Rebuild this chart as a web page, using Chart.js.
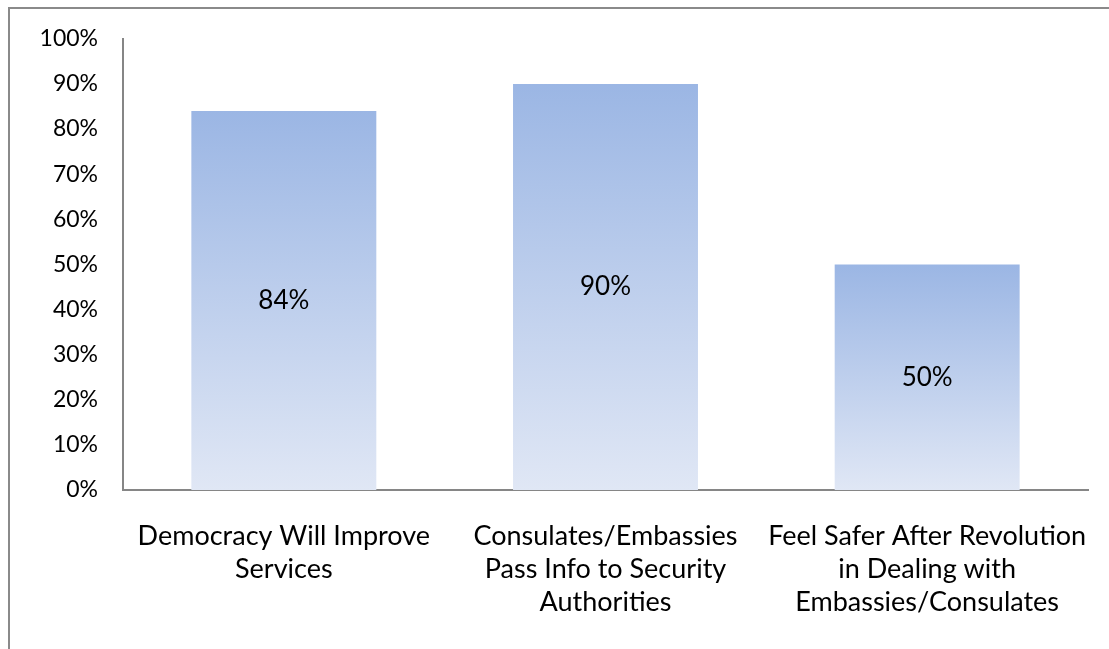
<!DOCTYPE html>
<html>
<head>
<meta charset="utf-8">
<script src="https://cdn.jsdelivr.net/npm/chart.js@4/dist/chart.umd.min.js"></script>
<style>
  html, body { margin: 0; padding: 0; background: #fff; }
  #wrap { position: relative; width: 1109px; height: 649px; }
</style>
</head>
<body>
<div id="wrap"><canvas id="myChart" width="1109" height="649"></canvas></div>
<script>
'use strict';

// Chart values
const categories = [
   ['Democracy Will Improve', 'Services'],
   ['Consulates/Embassies', 'Pass Info to Security', 'Authorities'],
   ['Feel Safer After Revolution', 'in Dealing with', 'Embassies/Consulates']
];
const values = [84, 90, 50];
const yTicks = [0, 10, 20, 30, 40, 50, 60, 70, 80, 90, 100];

const FONT = 'Lato, "Open Sans", sans-serif';

// Fade each bar from blue at the top to pale at the base.
function barFill(ctx) {
   const chart = ctx.chart;
   if (!chart.chartArea || ctx.dataIndex === undefined) return '#a7bfe6';
   const y = chart.scales.y;
   const top = y.getPixelForValue(values[ctx.dataIndex]);
   const bottom = y.getPixelForValue(0);
   const g = chart.ctx.createLinearGradient(0, top, 0, bottom);
   g.addColorStop(0, '#9bb6e4');
   g.addColorStop(1, '#e0e7f5');
   return g;
}

// Outer frame of the chart box.
const framePlugin = {
   id: 'frame',
   beforeDraw(chart) {
      const c = chart.ctx;
      c.save();
      c.strokeStyle = '#8a8a8a';
      c.lineWidth = 2;
      c.beginPath();
      c.moveTo(9, chart.height);
      c.lineTo(9, 8);
      c.lineTo(chart.width, 8);
      c.stroke();
      c.restore();
   }
};

// Value text in the middle of each bar.
const valueLabels = {
   id: 'valueLabels',
   afterDatasetsDraw(chart) {
      const c = chart.ctx;
      const meta = chart.getDatasetMeta(0);
      c.save();
      c.font = '26px ' + FONT;
      c.fillStyle = '#000';
      c.textAlign = 'center';
      c.textBaseline = 'middle';
      meta.data.forEach(function (bar, i) {
         c.fillText(values[i] + '%', bar.x, (bar.y + bar.base) / 2);
      });
      c.restore();
   }
};

const ctx = document.getElementById('myChart');
const myChart = new Chart(ctx, {
   type: 'bar',
   data: {
      labels: categories,
      datasets: [{
         data: values,
         backgroundColor: barFill,
         borderWidth: 0,
         categoryPercentage: 1,
         barPercentage: 0.575
      }]
   },
   options: {
      responsive: false,
      animation: false,
      layout: { padding: { top: 37, right: 21, bottom: 0, left: 0 } },
      plugins: {
         legend: { display: false },
         tooltip: { enabled: false }
      },
      scales: {
         x: {
            grid: { display: false, drawTicks: false },
            border: { display: true, color: '#868686', width: 2 },
            ticks: {
               color: '#000',
               font: { family: FONT, size: 27, lineHeight: 1.22 },
               padding: 30,
               maxRotation: 0,
               autoSkip: false
            },
            afterFit(scale) {
               scale.height = 159;
               // labels fit inside their categories, no extra side room
               scale.paddingLeft = 0;
               scale.paddingRight = 0;
            }
         },
         y: {
            min: 0,
            max: 100,
            afterBuildTicks(scale) {
               scale.ticks = yTicks.map(function (v) { return { value: v }; });
            },
            grid: { display: false, drawTicks: false },
            border: { display: true, color: '#868686', width: 2 },
            ticks: {
               color: '#000',
               font: { family: FONT, size: 23 },
               padding: 25,
               callback: function (v) { return v + '%'; }
            },
            afterFit(scale) { scale.width = 123; }
         }
      }
   },
   plugins: [framePlugin, valueLabels]
});
</script>
</body>
</html>
